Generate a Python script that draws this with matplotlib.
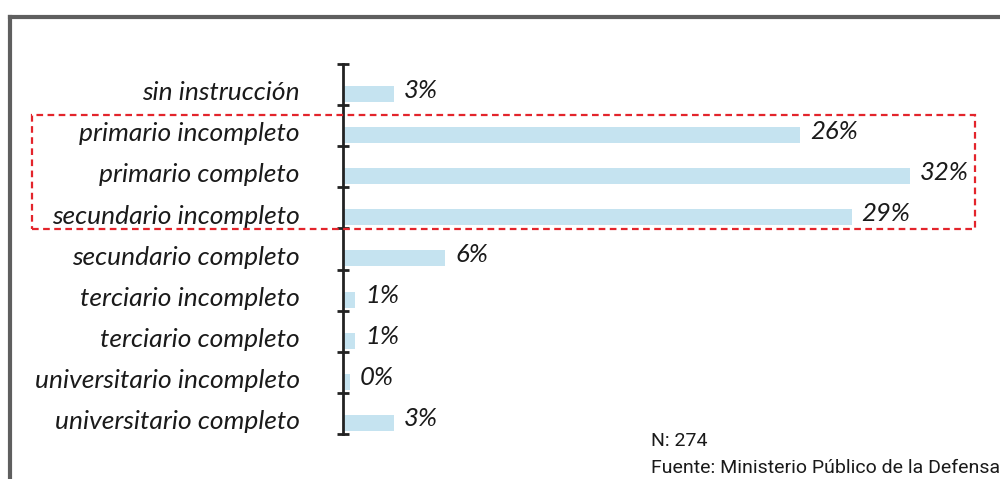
import matplotlib
matplotlib.use("Agg")
import matplotlib.pyplot as plt
from matplotlib.patches import Rectangle
from matplotlib.lines import Line2D
import numpy as np

categorias = ["sin instrucción", "primario incompleto", "primario completo",
              "secundario incompleto", "secundario completo", "terciario incompleto",
              "terciario completo", "universitario incompleto", "universitario completo"]
valores = [2.9, 25.9, 32.1, 28.8, 5.8, 0.7, 0.7, 0.4, 2.9]
etiquetas = ["3%", "26%", "32%", "29%", "6%", "1%", "1%", "0%", "3%"]

fig = plt.figure(figsize=(10, 4.79), dpi=100)
ax = fig.add_axes([0.343, 1 - 434 / 479, 0.637, 370 / 479])

y = np.arange(len(categorias))
ax.barh(y, valores, height=0.39, color="#c5e3f0")

ax.set_ylim(len(categorias) - 0.73, -0.73)
ax.set_xlim(0, 36.07)

for s in ["top", "right", "bottom"]:
    ax.spines[s].set_visible(False)
ax.spines["left"].set_linewidth(2)
ax.spines["left"].set_color("#222222")
ax.set_xticks([])

# etiquetas de categoria en ticks mayores, marcas en los limites
ax.set_yticks(y - 0.08)
ax.set_yticklabels(categorias, fontsize=19, fontstyle="italic", family="Lato", color="#1a1a1a")
ax.tick_params(axis="y", which="major", length=0, pad=31)
ax.set_yticks(np.arange(len(categorias) + 1) - 0.73, minor=True)
ax.tick_params(axis="y", which="minor", direction="inout", length=8, width=2, color="#222222")

for yi, v, t in zip(y, valores, etiquetas):
    ax.annotate(t, (v, yi), xytext=(10, 4), textcoords="offset pixels",
                ha="left", va="center", fontsize=18.5, fontstyle="italic",
                family="Lato", color="#1a1a1a")

# marco gris
fig.add_artist(Line2D([0.0095, 0.0095], [0, 1 - 17 / 479], transform=fig.transFigure,
                      color="#5f5f5f", lw=3, solid_capstyle="projecting"))
fig.add_artist(Line2D([0.0095, 1.0], [1 - 17 / 479, 1 - 17 / 479], transform=fig.transFigure,
                      color="#5f5f5f", lw=3, solid_capstyle="projecting"))

# recuadro rojo
fig.add_artist(Rectangle((0.032, 1 - 229 / 479), 0.943, 114 / 479, transform=fig.transFigure,
                         fill=False, edgecolor="#e3242b", lw=1.6, linestyle=(0, (3, 2))))

fig.text(0.651, 1 - 441 / 479, "N: 274", fontsize=14, va="center", ha="left",
         family="Roboto", color="#1a1a1a")
fig.text(0.651, 1 - 468 / 479, "Fuente: Ministerio Público de la Defensa", fontsize=14,
         va="center", ha="left", family="Roboto", color="#1a1a1a")

fig.savefig("out.png", dpi=100)
